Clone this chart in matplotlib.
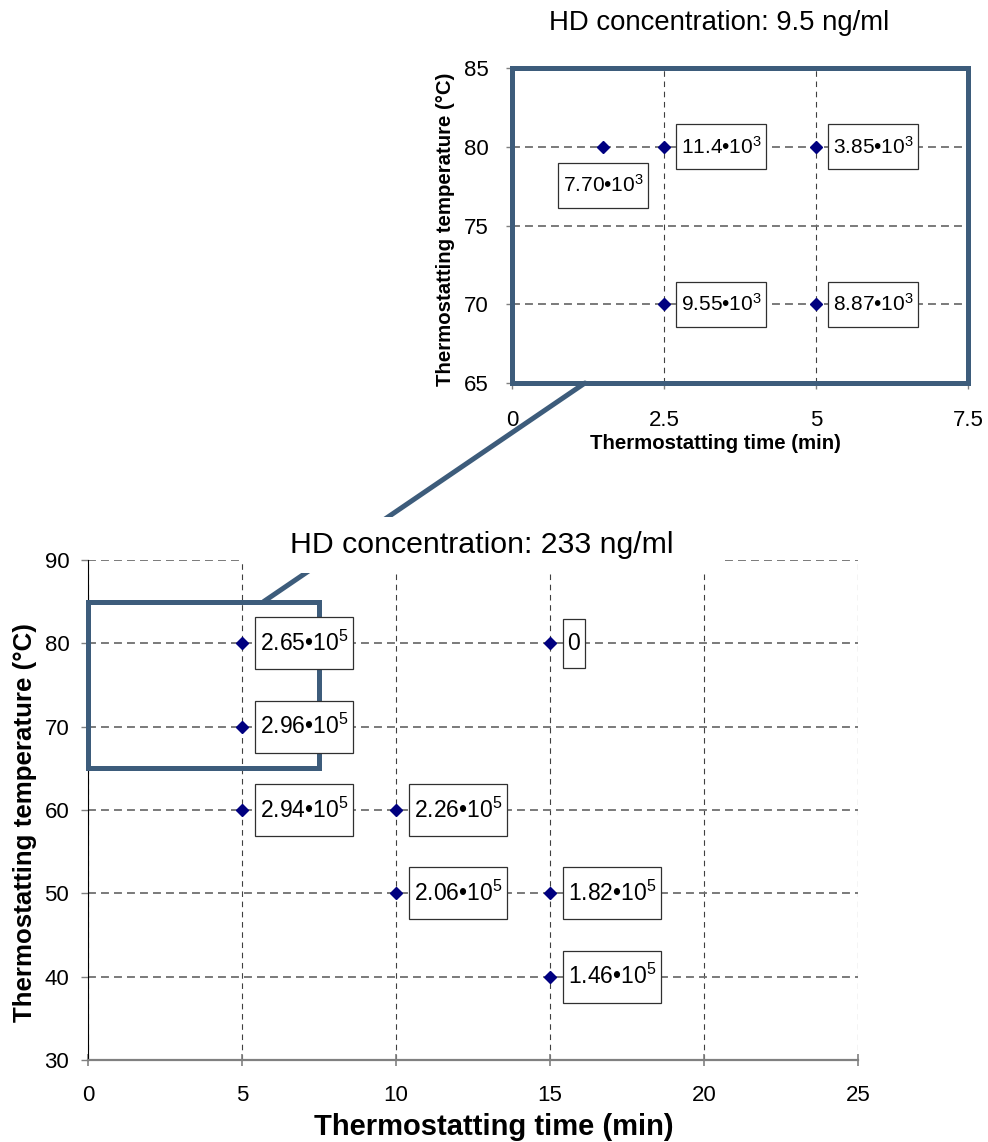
import matplotlib
matplotlib.use("Agg")
import matplotlib.pyplot as plt
from matplotlib.path import Path
from matplotlib.patches import Rectangle, ConnectionPatch

plt.rcParams["font.family"] = ["Liberation Sans", "DejaVu Sans"]
plt.rcParams["mathtext.fontset"] = "custom"
plt.rcParams["mathtext.rm"] = "Liberation Sans"
plt.rcParams["mathtext.it"] = "Liberation Sans"
plt.rcParams["mathtext.bf"] = "Liberation Sans:bold"
plt.rcParams["mathtext.default"] = "regular"

# ---- data: HD concentration 233 ng/ml (main panel) ----
main_title = "HD concentration: 233 ng/ml"
main_time = [5, 5, 5, 10, 10, 15, 15, 15]
main_temp = [80, 70, 60, 60, 50, 80, 50, 40]
main_labels = ["2.65•10$^{5}$", "2.96•10$^{5}$", "2.94•10$^{5}$", "2.26•10$^{5}$",
               "2.06•10$^{5}$", "0", "1.82•10$^{5}$", "1.46•10$^{5}$"]
main_xticks = [0, 5, 10, 15, 20, 25]
main_yticks = [30, 40, 50, 60, 70, 80, 90]

# ---- data: HD concentration 9.5 ng/ml (zoomed panel) ----
inset_title = "HD concentration: 9.5 ng/ml"
inset_time = [1.5, 2.5, 5, 2.5, 5]
inset_temp = [80, 80, 80, 70, 70]
inset_labels = ["7.70•10$^{3}$", "11.4•10$^{3}$", "3.85•10$^{3}$",
                "9.55•10$^{3}$", "8.87•10$^{3}$"]
inset_label_below = [True, False, False, False, False]
inset_xticks = [0, 2.5, 5, 7.5]
inset_xticklabels = ["0", "2.5", "5", "7.5"]
inset_yticks = [65, 70, 75, 80, 85]

xlabel = "Thermostatting time (min)"
ylabel = "Thermostatting temperature (°C)"

FRAME = "#3D5C7B"
MARK = "#000080"
GRID_H = "#707070"
GRID_V = "#404040"
PX = 72.0 / 100.0  # points per pixel at 100 dpi


def label_box(pad_x, pad_y):
    """Rectangular box with separate horizontal / vertical padding."""
    def style(x0, y0, width, height, mutation_size):
        px = pad_x * mutation_size
        py = pad_y * mutation_size
        x0 -= px
        y0 -= py
        x1 = x0 + width + 2 * px
        y1 = y0 + height + 2 * py
        return Path([(x0, y0), (x1, y0), (x1, y1), (x0, y1), (x0, y0)], closed=True)
    return style


def style_grid(ax):
    ax.set_axisbelow(True)
    ax.yaxis.grid(True, color=GRID_H, lw=1.3, linestyle=(0, (4.4, 2.8)))
    ax.xaxis.grid(True, color=GRID_V, lw=0.8, linestyle=(0, (5.0, 4.2)))


fig = plt.figure(figsize=(9.88, 11.42), dpi=100)

# ---------------- main panel ----------------
ax = fig.add_axes([88 / 988, 82 / 1142, 770 / 988, 500 / 1142])
ax.set_xlim(0, 25)
ax.set_ylim(30, 90)
ax.set_xticks(main_xticks)
ax.set_yticks(main_yticks)
style_grid(ax)
for s in ("top", "right"):
    ax.spines[s].set_visible(False)
ax.spines["left"].set_color("black")
ax.spines["left"].set_linewidth(0.8)
ax.spines["bottom"].set_color("#808080")
ax.spines["bottom"].set_linewidth(1.6)
ax.tick_params(axis="x", direction="inout", length=8, width=1.2, color="#808080",
               pad=14, labelsize=16)
ax.tick_params(axis="y", direction="out", length=5, width=1.0, color="#808080",
               pad=8.5, labelsize=16)
ax.set_xlabel(xlabel, fontsize=21, fontweight="bold")
ax.set_ylabel(ylabel, fontsize=18.6, fontweight="bold")
ax.xaxis.set_label_coords(0.527, -0.106)
ax.yaxis.set_label_coords(-0.066, 0.475)

ax.plot(main_time, main_temp, linestyle="none", marker="D", ms=6, color=MARK,
        zorder=4, clip_on=False)

main_fs = 16.5
for x, y, lab in zip(main_time, main_temp, main_labels):
    ax.annotate(lab, xy=(x, y), xytext=(13 * PX + 0.2 * main_fs, 0),
                textcoords="offset points", ha="left", va="center",
                fontsize=main_fs, zorder=6,
                bbox=dict(boxstyle=label_box(0.2, 0.58), fc="white",
                          ec="#303030", lw=0.9))

# zoom window drawn on the main panel
zoom_x0, zoom_x1, zoom_y0, zoom_y1 = 0, 7.5, 65, 85
ax.add_patch(Rectangle((zoom_x0, zoom_y0), zoom_x1 - zoom_x0, zoom_y1 - zoom_y0,
                       fill=False, ec=FRAME, lw=3.6, zorder=3, clip_on=False))

# ---------------- zoomed panel ----------------
axin = fig.add_axes([512 / 988, 759 / 1142, 456 / 988, 315 / 1142])
axin.set_xlim(zoom_x0, zoom_x1)
axin.set_ylim(zoom_y0, zoom_y1)
axin.set_xticks(inset_xticks)
axin.set_xticklabels(inset_xticklabels)
axin.set_yticks(inset_yticks)
style_grid(axin)
for s in axin.spines.values():
    s.set_color(FRAME)
    s.set_linewidth(3.6)
axin.tick_params(axis="both", direction="out", length=4, width=1.0, color="#808080",
                 labelsize=16)
axin.tick_params(axis="x", pad=15.5)
axin.tick_params(axis="y", pad=13)
axin.set_xlabel(xlabel, fontsize=14.7, fontweight="bold")
axin.set_ylabel(ylabel, fontsize=14.7, fontweight="bold")
axin.xaxis.set_label_coords(0.447, -0.163)
axin.yaxis.set_label_coords(-0.125, 0.489)

axin.plot(inset_time, inset_temp, linestyle="none", marker="D", ms=6, color=MARK,
          zorder=4, clip_on=False)

inset_fs = 15
for x, y, lab, below in zip(inset_time, inset_temp, inset_labels, inset_label_below):
    if below:
        kw = dict(xytext=(0, -(16 * PX + 0.55 * inset_fs)), ha="center", va="top")
    else:
        kw = dict(xytext=(12 * PX + 0.22 * inset_fs, 0), ha="left", va="center")
    axin.annotate(lab, xy=(x, y), textcoords="offset points", fontsize=inset_fs,
                  zorder=6,
                  bbox=dict(boxstyle=label_box(0.22, 0.55), fc="white",
                            ec="#303030", lw=0.9), **kw)

# connector from the zoom window to the zoomed panel
con = ConnectionPatch(xyA=(5.7, zoom_y1), coordsA=ax.transData,
                      xyB=(1.2, zoom_y0), coordsB=axin.transData,
                      color=FRAME, lw=3.6, zorder=1)
fig.add_artist(con)

# titles (the main one sits on a white box)
fig.text(482 / 988, 1 - 545 / 1142, main_title, ha="center", va="center",
         fontsize=21.8, zorder=5,
         bbox=dict(boxstyle=label_box(1.52, 0.45), fc="white", ec="none"))
fig.text(719 / 988, 1 - 23 / 1142, inset_title, ha="center", va="center",
         fontsize=19.8, zorder=5)

fig.savefig("out.png", dpi=100)
